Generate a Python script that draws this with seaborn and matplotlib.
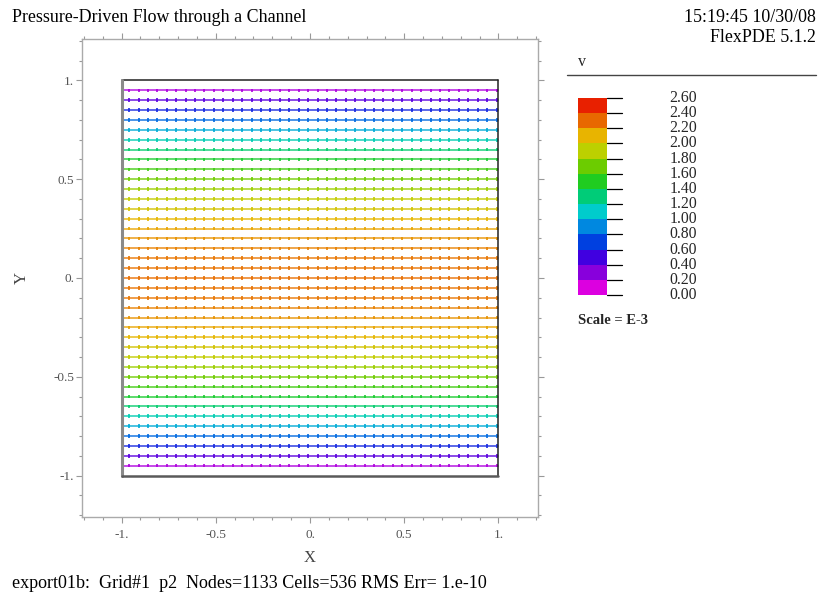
import numpy as np
import pandas as pd
import matplotlib
matplotlib.use("Agg")
import matplotlib.pyplot as plt
from matplotlib.colors import LinearSegmentedColormap
from matplotlib.patches import Rectangle
import seaborn as sns

# ---- data -------------------------------------------------------------
# row heights of the velocity vectors across the channel
row_y = [0.95, 0.90, 0.85, 0.80, 0.75, 0.70, 0.65, 0.60, 0.55, 0.50,
         0.45, 0.40, 0.35, 0.30, 0.25, 0.20, 0.15, 0.10, 0.05, 0.00,
         -0.05, -0.10, -0.15, -0.20, -0.25, -0.30, -0.35, -0.40, -0.45, -0.50,
         -0.55, -0.60, -0.65, -0.70, -0.75, -0.80, -0.85, -0.90, -0.95]
# speed |v| of each row (units of 1e-3)
row_speed = [0.22, 0.43, 0.63, 0.82, 1.00, 1.16, 1.32, 1.46, 1.59, 1.71,
             1.82, 1.92, 2.00, 2.08, 2.14, 2.19, 2.23, 2.26, 2.27, 2.28,
             2.27, 2.26, 2.23, 2.19, 2.14, 2.08, 2.00, 1.92, 1.82, 1.71,
             1.59, 1.46, 1.32, 1.16, 1.00, 0.82, 0.63, 0.43, 0.22]
# colour legend levels and band colours (low to high)
legend_levels = [0.00, 0.20, 0.40, 0.60, 0.80, 1.00, 1.20, 1.40,
                 1.60, 1.80, 2.00, 2.20, 2.40, 2.60]
band_colors = ["#dc00e0", "#8800dc", "#4000e0", "#0040e0", "#0088e0",
               "#00cccc", "#00cc78", "#20cc20", "#6ccc00", "#bcd000",
               "#e8b400", "#e86800", "#e82000"]
x_ticks = [-1.0, -0.5, 0.0, 0.5, 1.0]
x_tick_labels = ["-1.", "-0.5", "0.", "0.5", "1."]
y_ticks = [-1.0, -0.5, 0.0, 0.5, 1.0]
y_tick_labels = ["-1.", "-0.5", "0.", "0.5", "1."]

title = "Pressure-Driven Flow through a Channel"
stamp = "15:19:45 10/30/08"
version = "FlexPDE 5.1.2"
footer = "export01b:  Grid#1  p2  Nodes=1133 Cells=536 RMS Err= 1.e-10"

# ---- styling ----------------------------------------------------------
sns.set_theme(style="white")
plt.rcParams["font.family"] = ["Liberation Serif", "DejaVu Serif"]

W, H = 820, 599
fig = plt.figure(figsize=(W / 100, H / 100), dpi=100)
fig.patch.set_facecolor("white")


def fx(px):
    return px / W


def fy(py):
    return 1 - py / H


# continuous colour map through the band centres
centres = [(a + b) / 2 for a, b in zip(legend_levels[:-1], legend_levels[1:])]
lo, hi = centres[0], centres[-1]
cmap = LinearSegmentedColormap.from_list(
    "speed", [((c - lo) / (hi - lo), col) for c, col in zip(centres, band_colors)])

# ---- main vector panel ------------------------------------------------
ax = fig.add_axes([fx(82), fy(517), fx(538 - 82), (517 - 39) / H])

lines = pd.DataFrame({
    "x": np.tile([-1.0, 1.0], len(row_y)),
    "y": np.repeat(row_y, 2),
    "speed": np.repeat(row_speed, 2),
    "row": np.repeat(np.arange(len(row_y)), 2),
})
sns.lineplot(data=lines, x="x", y="y", hue="speed", units="row",
             estimator=None, palette=cmap, hue_norm=(lo, hi),
             linewidth=1.1, alpha=0.9, legend=False, ax=ax, sort=False)

arrow_x = np.linspace(-0.96, 0.99, 40)
marks = pd.DataFrame({
    "x": np.tile(arrow_x, len(row_y)),
    "y": np.repeat(row_y, len(arrow_x)),
    "speed": np.repeat(row_speed, len(arrow_x)),
})
sns.scatterplot(data=marks, x="x", y="y", hue="speed", palette=cmap,
                hue_norm=(lo, hi), marker="|", s=7, linewidth=1.2,
                legend=False, ax=ax)

# channel walls
ax.plot([-1, 1], [1, 1], color="#222222", lw=1.1)
ax.plot([1, 1], [-1, 1], color="#222222", lw=1.1)
ax.plot([-1, -1], [-1, 1], color="#8a8a8a", lw=2.2)
ax.plot([-1, 1], [-1, -1], color="#5a5a5a", lw=1.8)

ax.set_xlim(-1.21, 1.21)
ax.set_ylim(-1.21, 1.21)
ax.set_xticks(x_ticks)
ax.set_xticklabels(x_tick_labels)
ax.set_yticks(y_ticks)
ax.set_yticklabels(y_tick_labels)
ax.set_xticks(np.arange(-1.2, 1.21, 0.1), minor=True)
ax.set_yticks(np.arange(-1.2, 1.21, 0.1), minor=True)
ax.tick_params(which="both", direction="out", top=True, right=True,
               bottom=True, left=True, color="#999999", labelcolor="#555555",
               labelsize=9.5, width=0.8)
ax.tick_params(which="major", length=4)
ax.tick_params(which="minor", length=2.5)
ax.tick_params(axis="y", which="major", pad=1.5)
ax.tick_params(axis="x", which="major", pad=5)
for sp in ax.spines.values():
    sp.set_color("#aaaaaa")
    sp.set_linewidth(1.0)
ax.set_xlabel("")
ax.set_ylabel("")

fig.text(fx(310), fy(558), "X", fontsize=12, color="#444444",
         ha="center", va="center")
fig.text(fx(22), fy(278), "Y", fontsize=12, color="#444444",
         ha="center", va="center", rotation=90)

# ---- header and footer ------------------------------------------------
fig.text(fx(12), fy(18), title, fontsize=12.9, color="black",
         ha="left", va="center")
fig.text(fx(816), fy(18), stamp, fontsize=12.9, color="black",
         ha="right", va="center")
fig.text(fx(816), fy(37), version, fontsize=12.9, color="black",
         ha="right", va="center")
fig.text(fx(12), fy(583), footer, fontsize=13, color="black",
         ha="left", va="center")

# ---- colour legend ----------------------------------------------------
lax = fig.add_axes([0, 0, 1, 1], facecolor="none")
lax.set_xlim(0, W)
lax.set_ylim(H, 0)
lax.axis("off")

lax.text(578, 62, "v", fontsize=11.5, ha="left", va="center")
lax.plot([567, 816], [75, 75], color="#444444", lw=1.0)

box_top, box_bot = 98, 295
n = len(band_colors)
step = (box_bot - box_top) / n
for i, col in enumerate(band_colors):
    y0 = box_bot - (i + 1) * step
    lax.add_patch(Rectangle((578, y0), 29, step, facecolor=col,
                            edgecolor="none"))
for i, lev in enumerate(legend_levels):
    yy = box_bot - i * step
    lax.plot([607, 622], [yy, yy], color="black", lw=0.9)
    lax.text(697, yy, f"{lev:.2f}", fontsize=11.3, ha="right", va="center")

lax.text(578, 321, "Scale = E-3", fontsize=10.5, fontweight="bold",
         ha="left", va="center")

fig.savefig("out.png", dpi=100)
